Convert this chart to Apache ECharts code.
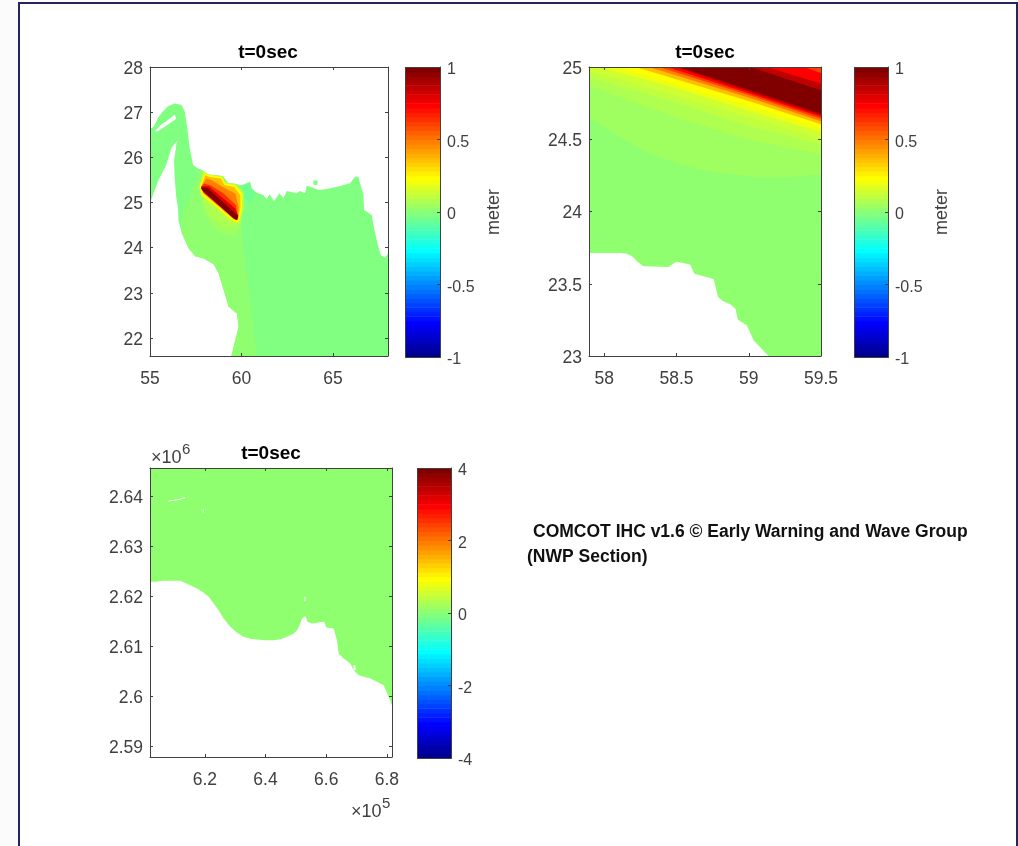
<!DOCTYPE html>
<html><head><meta charset="utf-8">
<style>html,body{margin:0;padding:0;background:#fff}#c{width:1018px;height:846px}</style>
<script src="https://cdn.jsdelivr.net/npm/echarts@6/dist/echarts.min.js"></script>
</head><body><div id="c"></div>
<script>
// MATLAB jet(64) colormap
const jetColors = ['#00008f','#00009f','#0000af','#0000bf','#0000cf','#0000df','#0000ef','#0000ff',
'#0010ff','#0020ff','#0030ff','#0040ff','#0050ff','#0060ff','#0070ff','#0080ff','#008fff','#009fff','#00afff','#00bfff','#00cfff','#00dfff','#00efff','#00ffff',
'#10ffef','#20ffdf','#30ffcf','#40ffbf','#50ffaf','#60ff9f','#70ff8f','#80ff80','#8fff70','#9fff60','#afff50','#bfff40','#cfff30','#dfff20','#efff10','#ffff00',
'#ffef00','#ffdf00','#ffcf00','#ffbf00','#ffaf00','#ff9f00','#ff8f00','#ff8000','#ff7000','#ff6000','#ff5000','#ff4000','#ff3000','#ff2000','#ff1000','#ff0000',
'#ef0000','#df0000','#cf0000','#bf0000','#af0000','#9f0000','#8f0000','#800000'];

// Panel 1 (lon / lat): wet-cell outline and filled levels of the initial surface
const p1Sea = [[55,26.62],[55.219,26.687],[55.437,26.871],[55.711,27.019],[55.984,27.13],[56.348,27.189],[56.713,27.166],[56.895,27.019],[57.04,26.65],[57.168,26.207],[57.35,25.838],[57.623,25.75],[57.896,25.705],[58.079,25.58],[58.625,25.602],[58.989,25.58],[59.263,25.432],[59.718,25.41],[59.991,25.38],[60.464,25.461],[60.555,25.313],[60.828,25.217],[61.192,25.166],[61.375,25.07],[61.52,25.18],[61.775,25.033],[62.067,25.203],[62.286,25.092],[62.468,25.254],[63.014,25.203],[63.196,25.254],[63.47,25.203],[63.561,25.372],[63.925,25.328],[64.198,25.277],[64.653,25.299],[65.236,25.35],[65.928,25.424],[66.202,25.572],[66.384,25.572],[66.475,25.424],[66.657,25.166],[66.693,24.834],[67.112,24.723],[67.24,24.428],[67.422,24.096],[67.604,23.837],[67.841,23.778],[68,23.87],[68,21.6],[59.443,21.6],[59.661,21.953],[59.843,22.248],[59.752,22.542],[59.297,22.69],[59.024,23.059],[58.751,23.428],[58.478,23.634],[57.931,23.759],[57.476,23.811],[57.112,23.981],[56.748,24.313],[56.566,24.571],[56.53,24.879],[56.439,25.1],[56.348,25.543],[56.312,25.912],[56.439,26.281],[56.494,26.369],[56.166,26.207],[55.893,25.838],[55.437,25.469],[55.037,25.026],[55,25.0]];
const p1Islet = [[63.93,25.49],[64.15,25.49],[64.15,25.39],[63.93,25.39]];
const p1Island = [[55.255,26.576],[55.62,26.724],[55.893,26.797],[56.348,26.945],[56.439,26.856],[55.984,26.724],[55.437,26.576]];
const p1West = [[57.72,25.74],[56.66,24.57],[56.748,24.313],[57.112,23.981],[57.476,23.811],[57.931,23.759],[58.478,23.634],[58.751,23.428],[59.024,23.059],[59.297,22.69],[59.752,22.542],[59.843,22.248],[59.661,21.953],[59.443,21.6],[60.845,21.6],[60.025,24.239],[60.025,25.3],[59.718,25.41],[59.263,25.432],[58.989,25.58],[58.625,25.602],[58.079,25.58],[57.896,25.705]];
const p1EastPatch = [[60.05,25.36],[60.46,25.44],[60.55,25.29],[60.78,25.2],[60.481,24.976],[60.116,25.124]];
const p1Halo = [[57.749,25.234],[57.931,24.829],[58.387,24.46],[59.024,24.298],[59.661,24.276],[59.971,24.46],[60.025,25.271],[58.66,25.55],[57.95,25.65]];
const p1Halo2 = [[57.84,25.05],[58.296,24.682],[59.024,24.46],[59.752,24.46],[60.0,25.0],[58.66,25.5]];
const p1Src35 = [[57.931,25.698],[57.675,25.344],[57.785,25.138],[59.479,24.547],[59.898,24.532],[60.116,24.864],[60.116,25.211],[59.716,25.403],[59.114,25.44],[58.932,25.58],[58.204,25.625]];
const p1Src39 = [[57.967,25.654],[57.712,25.344],[57.839,25.167],[59.533,24.584],[59.843,24.562],[60.025,24.864],[60.025,25.197],[59.661,25.381],[59.114,25.418],[58.932,25.566],[58.204,25.603]];
const p1Src43 = [[58.022,25.603],[57.785,25.344],[57.894,25.197],[59.57,24.621],[59.807,24.606],[59.934,24.901],[59.934,25.16],[59.606,25.344],[59.06,25.388],[58.878,25.529],[58.258,25.566]];
const p1Src47 = [[58.076,25.529],[57.803,25.344],[57.931,25.211],[59.606,24.643],[59.788,24.643],[59.843,24.901],[59.661,25.197],[59.114,25.307],[58.386,25.492]];
const p1Src52 = [[57.931,25.418],[57.803,25.33],[57.931,25.219],[59.624,24.643],[59.77,24.665],[59.697,24.938],[59.023,25.197],[58.295,25.381]];
const p1Src57 = [[57.803,25.359],[57.785,25.307],[57.931,25.226],[59.624,24.628],[59.77,24.628],[59.807,24.717],[59.661,24.864],[58.204,25.359]];
const p1Src63 = [[57.785,25.322],[57.931,25.241],[59.57,24.643],[59.752,24.606],[59.825,24.702],[58.113,25.33]];

// Panel 2 (lon / lat)
const p2Sea = [[57.894,23.713],[58.111,23.713],[58.157,23.708],[58.192,23.69],[58.231,23.65],[58.272,23.621],[58.445,23.616],[58.468,23.634],[58.498,23.653],[58.595,23.634],[58.623,23.57],[58.757,23.533],[58.787,23.408],[58.826,23.378],[58.872,23.358],[58.907,23.328],[58.925,23.251],[58.987,23.212],[59.034,23.108],[59.137,23],[59.5,23],[59.5,25],[57.894,25]];
const p2A = [[57.894,25],[57.894,24.654],[58.088,24.527],[58.318,24.4],[58.549,24.319],[58.78,24.269],[59.057,24.239],[59.288,24.239],[59.5,24.257],[59.5,25]];
const p2B = [[57.894,25],[57.894,24.873],[58.203,24.758],[58.549,24.636],[59.01,24.497],[59.5,24.396],[59.5,25]];
const p2C = [[57.894,25],[57.894,24.935],[58.203,24.839],[58.549,24.735],[59.01,24.589],[59.5,24.465],[59.5,25]];
const p2D = [[57.894,25],[57.894,24.972],[58.203,24.889],[58.549,24.788],[59.01,24.649],[59.5,24.504],[59.5,25]];
const p2E = [[57.972,25],[58.549,24.839],[59.01,24.696],[59.5,24.55],[59.5,25]];
const p2F = [[58.1,25],[58.561,24.862],[59.022,24.728],[59.5,24.58],[59.5,25]];
const p2G = [[58.215,25],[59.01,24.762],[59.5,24.603],[59.5,25]];
const p2H = [[58.307,25],[59.01,24.785],[59.5,24.624],[59.5,25]];
const p2I = [[58.376,25],[59.01,24.802],[59.5,24.64],[59.5,25]];
const p2J = [[58.434,25],[59.01,24.815],[59.5,24.654],[59.5,25]];
const p2K = [[58.491,25],[59.01,24.827],[59.5,24.666],[59.5,25]];
const p2L = [[58.515,25],[59.01,24.839],[59.5,24.675],[59.5,25]];
const p2U59 = [[59.01,25],[59.5,24.839],[59.5,25]];
const p2U55 = [[59.126,25],[59.5,24.885],[59.5,25]];
const p2U51 = [[59.38,25],[59.5,24.958],[59.5,25]];

// Panel 3 (x in 1e5 m, y in 1e6 m)
const p3Sea = [[6.0194,2.62287],[6.037,2.62287],[6.0644,2.62307],[6.1193,2.62307],[6.1468,2.62233],[6.1743,2.62153],[6.1962,2.62067],[6.2127,2.61987],[6.2292,2.61853],[6.2456,2.6172],[6.2621,2.61553],[6.2841,2.61387],[6.3061,2.61267],[6.328,2.61187],[6.35,2.61147],[6.372,2.61133],[6.3994,2.6112],[6.4269,2.6112],[6.4488,2.6114],[6.4708,2.61187],[6.4928,2.61253],[6.5038,2.6132],[6.5147,2.61453],[6.5202,2.61553],[6.5312,2.616],[6.5389,2.61487],[6.5532,2.61453],[6.5697,2.61467],[6.5938,2.61487],[6.6004,2.61373],[6.6246,2.61353],[6.6356,2.6112],[6.6411,2.60853],[6.6575,2.60753],[6.6795,2.60653],[6.6905,2.6052],[6.707,2.6042],[6.7454,2.60353],[6.7674,2.60287],[6.7893,2.6022],[6.8036,2.6002],[6.8168,2.5982],[6.8168,2.6456],[6.0194,2.6456]];
const p3Speck1 = [[6.081,2.6391],[6.115,2.6394],[6.135,2.6398],[6.135,2.6396],[6.115,2.6392],[6.081,2.6389]];
const p3Speck2 = [[6.1935,2.6374],[6.1965,2.6374],[6.1965,2.6367],[6.1935,2.6367]];
const p3Speck3 = [[6.5278,2.6199],[6.5315,2.6199],[6.5315,2.6190],[6.5278,2.6190]];
const p3Speck4 = [[6.69,2.6062],[6.697,2.6062],[6.697,2.6052],[6.69,2.6052]];
const p3Speck5 = [[6.745,2.6026],[6.753,2.6026],[6.753,2.6015],[6.745,2.6015]];

// Axis ranges and tick labels
const p1XTicks = [55,60,65];
const p1YTicks = [22,23,24,25,26,27,28];
const p2XTicks = [58,58.5,59,59.5];
const p2YTicks = [23,23.5,24,24.5,25];
const p3XTicks = [6.2,6.4,6.6,6.8];
const p3YTicks = [2.59,2.6,2.61,2.62,2.63,2.64];
const cbTicksMeter = [-1,-0.5,0,0.5,1];
const cbTicksWide = [-4,-2,0,2,4];
const titleText = 't=0sec';
const creditLines = ['COMCOT IHC v1.6 \u00a9 Early Warning and Wave Group','(NWP Section)'];

const WHITE = -1;
const layers = [
 [[p1Sea,31],[p1Islet,31],[p1West,32],[p1EastPatch,30],[p1Island,WHITE],[p1Halo,33],[p1Halo2,34],[p1Src35,35],[p1Src39,39],[p1Src43,43],[p1Src47,47],[p1Src52,52],[p1Src57,57],[p1Src63,63]],
 [[p2Sea,32],[p2A,33],[p2B,34],[p2C,35],[p2D,36],[p2E,38],[p2F,39],[p2G,43],[p2H,47],[p2I,51],[p2J,55],[p2K,59],[p2L,63],[p2U59,59],[p2U55,55],[p2U51,51]],
 [[p3Sea,32],[p3Speck1,WHITE],[p3Speck2,WHITE],[p3Speck3,WHITE],[p3Speck4,WHITE],[p3Speck5,WHITE]]
];

const FONT = '"Liberation Sans", Arial, sans-serif';
const AX = '#404040', TXT = '#404040';
const panels = [
 {left:150,top:67,width:238,height:289,xr:[55,68],yr:[21.6,28],xt:p1XTicks,yt:p1YTicks},
 {left:589,top:67,width:232,height:289,xr:[57.894,59.5],yr:[23,25],xt:p2XTicks,yt:p2YTicks},
 {left:150,top:468,width:242,height:289,xr:[6.0194,6.8168],yr:[2.58786,2.6456],xt:p3XTicks,yt:p3YTicks}
];
const bars = [
 {left:405,top:67,width:35,height:290,t:cbTicksMeter,name:'meter',max:1},
 {left:854,top:67,width:34,height:290,t:cbTicksMeter,name:'meter',max:1},
 {left:417,top:468,width:34,height:290,t:cbTicksWide,name:'',max:4}
];

const grid=[],xAxis=[],yAxis=[],series=[];
const line={show:true,onZero:false,lineStyle:{color:AX,width:1}};
const lab={color:TXT,fontSize:17.5,fontFamily:FONT};
// rich labels let the text sit a little below its tick, as in the reference
const shifted=(size,pad)=>({rich:{s:{color:TXT,fontSize:size,fontFamily:FONT,padding:[pad,0,0,0]}},formatter:v=>'{s|'+v+'}'});
panels.forEach((p,i)=>{
  grid.push({left:p.left,top:p.top,width:p.width,height:p.height});
  const tick=vals=>({show:true,inside:true,length:3,customValues:vals,lineStyle:{color:AX}});
  xAxis.push({type:'value',gridIndex:i,position:'bottom',min:p.xr[0],max:p.xr[1],z:10,splitLine:{show:false},axisLine:line,axisTick:tick(p.xt),axisLabel:{...lab,margin:14,customValues:p.xt,formatter:v=>String(v)}});
  xAxis.push({type:'value',gridIndex:i,position:'top',min:p.xr[0],max:p.xr[1],z:10,splitLine:{show:false},axisLine:line,axisTick:tick(p.xt),axisLabel:{show:false}});
  yAxis.push({type:'value',gridIndex:i,position:'left',min:p.yr[0],max:p.yr[1],z:10,splitLine:{show:false},axisLine:line,axisTick:tick(p.yt),axisLabel:{margin:7,customValues:p.yt,...shifted(17.5,4)}});
  yAxis.push({type:'value',gridIndex:i,position:'right',min:p.yr[0],max:p.yr[1],z:10,splitLine:{show:false},axisLine:line,axisTick:tick(p.yt),axisLabel:{show:false}});
  series.push({type:'custom',xAxisIndex:2*i,yAxisIndex:2*i,silent:true,clip:true,
    data:layers[i].map((l,k)=>[k]),encode:{x:0,y:0},
    renderItem:(params,api)=>{
      const l=layers[i][api.value(0)];
      return {type:'polygon',shape:{points:l[0].map(q=>api.coord(q))},style:{fill:l[1]===WHITE?'#ffffff':jetColors[l[1]],stroke:null}};
    }});
});
bars.forEach((b,j)=>{
  const gi=panels.length+j, ax=panels.length*2+j;
  grid.push({left:b.left,top:b.top,width:b.width,height:b.height});
  xAxis.push({type:'value',gridIndex:gi,min:0,max:1,show:false});
  yAxis.push({type:'value',gridIndex:gi,position:'right',min:-b.max,max:b.max,z:10,splitLine:{show:false},
    name:b.name,nameLocation:'middle',nameRotate:90,nameGap:45,nameTextStyle:{color:TXT,fontSize:18,fontFamily:FONT},
    axisLine:line,axisTick:{show:true,inside:true,length:3,customValues:b.t,lineStyle:{color:AX}},
    axisLabel:{margin:7,customValues:b.t,...shifted(16,6)}});
  series.push({type:'custom',xAxisIndex:ax,yAxisIndex:ax,silent:true,
    data:jetColors.map((c,k)=>[k]),encode:{x:0,y:0},
    renderItem:(params,api)=>{
      const k=api.value(0), lo=-b.max+2*b.max*k/64, hi=-b.max+2*b.max*(k+1)/64;
      const a=api.coord([0,hi]), c=api.coord([1,lo]);
      return {type:'rect',shape:{x:a[0],y:a[1],width:c[0]-a[0],height:c[1]-a[1]+0.6},style:{fill:jetColors[k]}};
    }});
});

const boxes=bars.map(b=>({type:'rect',z:20,shape:{x:b.left+.5,y:b.top+.5,width:b.width,height:b.height},style:{fill:'none',stroke:AX,lineWidth:1}}));
const frame='#25255c';
const txt=(x,y,text,fs,fw,col,align)=>({type:'text',x,y,z:30,style:{text,fontSize:fs,fontWeight:fw||'normal',fontFamily:FONT,fill:col||TXT,align:align||'left',verticalAlign:'middle'}});

const option={animation:false,backgroundColor:'#ffffff',grid,xAxis,yAxis,series,
 graphic:[
  {type:'rect',z:0,shape:{x:0,y:0,width:18,height:846},style:{fill:'#fbfbfb'}},
  {type:'line',z:40,shape:{x1:18,y1:3,x2:1017,y2:3},style:{stroke:frame,lineWidth:2}},
  {type:'line',z:40,shape:{x1:19,y1:2,x2:19,y2:846},style:{stroke:frame,lineWidth:2}},
  {type:'line',z:40,shape:{x1:1017,y1:2,x2:1017,y2:846},style:{stroke:frame,lineWidth:2}},
  ...boxes,
  txt(268,52.5,titleText,19,'bold','#000','center'),
  txt(705,52.5,titleText,19,'bold','#000','center'),
  txt(271,453.5,titleText,19,'bold','#000','center'),
  txt(151,458,'\u00d710',18),txt(182,450,'6',15),
  txt(351,812,'\u00d710',18),txt(382,804,'5',15),
  txt(533,532,creditLines[0],17.5,'bold','#111'),
  txt(527,557,creditLines[1],17.5,'bold','#111')
 ]};
echarts.init(document.getElementById('c'),null,{renderer:'canvas'}).setOption(option);
</script></body></html>
